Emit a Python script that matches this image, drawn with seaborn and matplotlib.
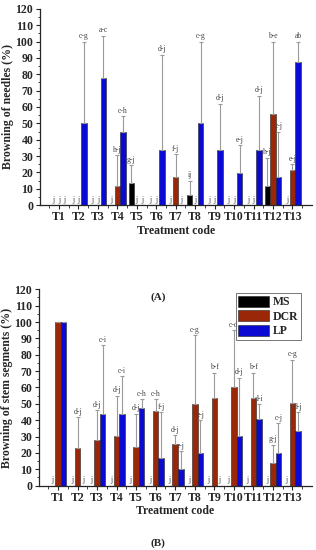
import matplotlib
matplotlib.use("Agg")
import matplotlib.pyplot as plt
from matplotlib.ticker import MultipleLocator
import seaborn as sns
import pandas as pd

treatments = ["T%d" % i for i in range(1, 14)]
groups = ["MS", "DCR", "LP"]

# (A) browning of needles
needles_ms = [0, 0, 0, 0, 13.5, 0, 0, 6, 0, 0, 0, 11.5, 0]
needles_ms_top = [0, 0, 0, 0, 24.5, 0, 0, 15, 0, 0, 0, 29, 0]
needles_ms_lab = ["j", "j", "j", "j", "g-j", "j", "j", "ij", "j", "j", "j", "h-j", "j"]
needles_dcr = [0, 0, 0, 11.5, 0, 0, 17.3, 0, 0, 0, 0, 56, 21.3]
needles_dcr_top = [0, 0, 0, 30.5, 0, 0, 31, 0, 0, 0, 0, 100, 25]
needles_dcr_lab = ["j", "j", "j", "h-j", "j", "j", "f-j", "j", "j", "j", "j", "b-e", "e-j"]
needles_lp = [0, 50, 78, 45, 0, 33.5, 0, 50, 33.5, 19.5, 33.5, 17, 87.5]
needles_lp_top = [0, 100, 103.5, 54.5, 0, 92, 0, 100, 62, 36.5, 67, 45, 100]
needles_lp_lab = ["j", "c-g", "a-c", "c-h", "j", "d-j", "j", "c-g", "d-j", "e-j", "d-j", "c-j", "ab"]

# (B) browning of stem segments
stem_ms = [0, 0, 0, 0, 0, 0, 0, 0, 0, 0, 0, 0, 0]
stem_ms_top = [0, 0, 0, 0, 0, 0, 0, 0, 0, 0, 0, 0, 0]
stem_ms_lab = ["j"] * 13
stem_dcr = [100, 22.8, 28, 30.3, 23.6, 45.8, 25.4, 49.9, 53.8, 60.5, 53.8, 13.8, 50.5]
stem_dcr_top = [100, 42, 46, 55, 44, 53, 31, 92, 69, 95, 69, 25, 77]
stem_dcr_lab = ["", "d-j", "d-j", "d-j", "d-j", "c-h", "d-j", "c-g", "b-f", "c-d", "b-f", "g-j", "c-g"]
stem_lp = [100, 0, 43.8, 43.8, 47.4, 16.8, 10.1, 20.1, 0, 30.5, 40.7, 20, 33.6]
stem_lp_top = [100, 0, 86, 67, 53, 45, 21, 40, 0, 66, 50, 38, 45]
stem_lp_lab = ["", "j", "c-i", "c-i", "c-h", "f-j", "e-j", "e-j", "j", "d-j", "d-i", "c-j", "d-j"]

colors = {"MS": "#000000", "DCR": "#9a2808", "LP": "#0a0ad2"}

sns.set_style("ticks")
plt.rcParams["font.family"] = ["Liberation Serif", "DejaVu Serif"]

fig = plt.figure(figsize=(3.16, 5.5), dpi=100)
ax1 = fig.add_axes([0.125, 0.627, 0.862, 0.357])
ax2 = fig.add_axes([0.122, 0.117, 0.865, 0.357])


def panel(ax, vals, tops, labs, ylabel, legend):
    df = pd.DataFrame({
        "Treatment": treatments * 3,
        "Type": [g for g in groups for _ in treatments],
        "Value": vals[0] + vals[1] + vals[2],
    })
    sns.barplot(data=df, x="Treatment", y="Value", hue="Type", hue_order=groups,
                palette=colors, width=0.85, errorbar=None, saturation=1,
                edgecolor="#222222", linewidth=0.4, ax=ax, legend=legend)
    for cont, v, t, lab in zip(ax.containers, vals, tops, labs):
        xs = [p.get_x() + p.get_width() / 2 for p in cont.patches]
        up = [max(tt - vv, 0) for vv, tt in zip(v, t)]
        ax.errorbar(xs, v, yerr=[[0] * len(v), up], fmt="none", ecolor="#9a9a9a",
                    elinewidth=0.8, capsize=1.6, capthick=0.8, zorder=1)
        for x, tt, s in zip(xs, t, lab):
            if s:
                ax.text(x, tt + 0.8, s, ha="center", va="bottom", fontsize=5.5,
                        color="#444444")
    ax.set_xlim(-1.0, 13.0)
    ax.set_ylim(0, 120)
    ax.yaxis.set_major_locator(MultipleLocator(10))
    ax.yaxis.set_minor_locator(MultipleLocator(5))
    ax.set_xticks(range(13), treatments)
    ax.set_xticks([i + 0.5 for i in range(-1, 13)], minor=True)
    ax.tick_params(axis="both", which="major", labelsize=8.5, length=3, width=0.8,
                   pad=1.5)
    ax.tick_params(axis="both", which="minor", length=1.8, width=0.6)
    for lab in ax.get_xticklabels() + ax.get_yticklabels():
        lab.set_fontweight("bold")
    ax.set_xlabel("Treatment code", fontsize=8.5, fontweight="bold", labelpad=1)
    ax.set_ylabel(ylabel, fontsize=8.5, fontweight="bold", labelpad=1)
    for s in ["left", "bottom"]:
        ax.spines[s].set_linewidth(0.9)
    sns.despine(ax=ax)


panel(ax1, [needles_ms, needles_dcr, needles_lp],
      [needles_ms_top, needles_dcr_top, needles_lp_top],
      [needles_ms_lab, needles_dcr_lab, needles_lp_lab],
      "Browning of needles (%)", False)
panel(ax2, [stem_ms, stem_dcr, stem_lp],
      [stem_ms_top, stem_dcr_top, stem_lp_top],
      [stem_ms_lab, stem_dcr_lab, stem_lp_lab],
      "Browning of stem segments (%)", True)

leg = ax2.legend(loc="upper right", bbox_to_anchor=(0.98, 1.01), frameon=True,
                 fancybox=False, edgecolor="#555555", handlelength=2.6,
                 handleheight=1.1, handletextpad=0.3, borderpad=0.2,
                 labelspacing=0.15, prop={"weight": "bold", "size": 8.5})
leg.get_frame().set_linewidth(0.7)
leg.set_title(None)

fig.text(0.5, 1 - 297 / 550, "(A)", ha="center", va="center", fontsize=8,
         fontweight="bold")
fig.text(0.5, 1 - 543 / 550, "(B)", ha="center", va="center", fontsize=8,
         fontweight="bold")

fig.savefig("out.png", dpi=100)
